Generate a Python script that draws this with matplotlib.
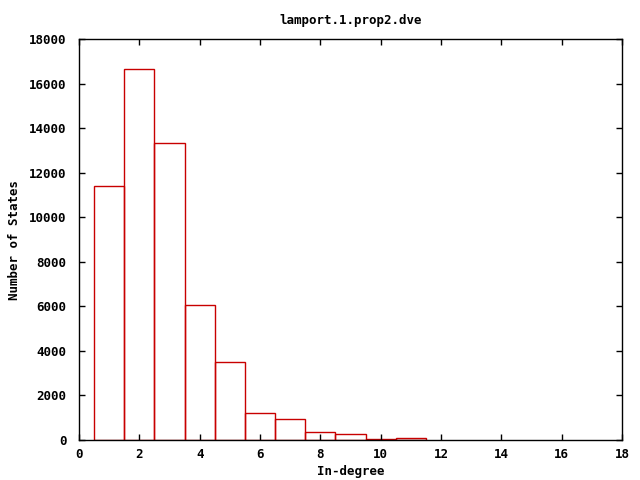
import matplotlib
matplotlib.use('Agg')
import matplotlib.pyplot as plt

# in-degree histogram values
degrees = [1, 2, 3, 4, 5, 6, 7, 8, 9, 10, 11]
counts = [11400, 16640, 13320, 6080, 3520, 1230, 960, 375, 250, 60, 105]
xticks = [0, 2, 4, 6, 8, 10, 12, 14, 16, 18]
yticks = [0, 2000, 4000, 6000, 8000, 10000, 12000, 14000, 16000, 18000]

plt.rcParams['font.family'] = 'DejaVu Sans Mono'
plt.rcParams['font.weight'] = 'bold'
plt.rcParams['font.size'] = 9

fig = plt.figure(figsize=(6.4, 4.8), dpi=100)
ax = fig.add_axes([79 / 640, 40 / 480, 543 / 640, 401 / 480])

# empty boxes, gnuplot style
ax.bar(degrees, counts, width=1.0, fill=False, edgecolor='#c80000', linewidth=1.0)

ax.set_xlim(0, 18)
ax.set_ylim(0, 18000)
ax.set_xticks(xticks)
ax.set_yticks(yticks)
ax.tick_params(direction='in', top=True, right=True, length=4, width=1, pad=6)
ax.tick_params(axis='y', pad=9)
for s in ax.spines.values():
    s.set_linewidth(1)

ax.set_title('lamport.1.prop2.dve', fontsize=9, fontweight='bold', pad=11)
ax.set_xlabel('In-degree', fontsize=9, fontweight='bold', labelpad=3)
# y label placed near the left edge like gnuplot
fig.text(15 / 640, 0.5, 'Number of States', rotation=90,
         ha='center', va='center', fontsize=9, fontweight='bold')

fig.savefig('out.png', dpi=100)
